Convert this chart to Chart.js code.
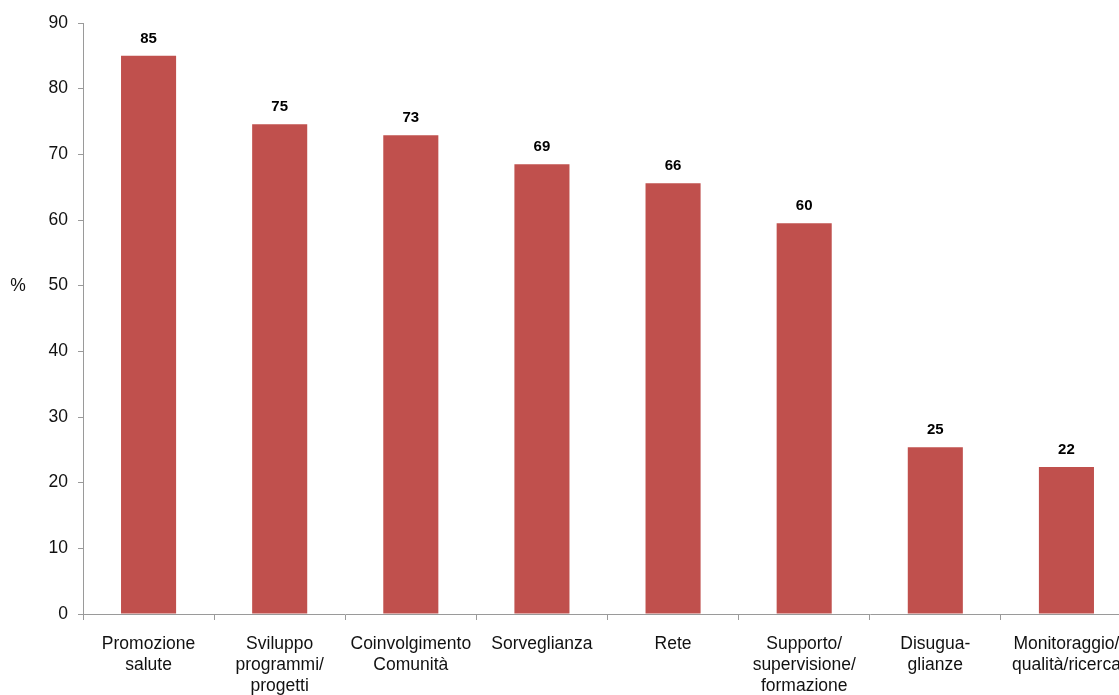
<!DOCTYPE html>
<html>
<head>
<meta charset="utf-8">
<script src="https://cdn.jsdelivr.net/npm/chart.js@4/dist/chart.umd.min.js"></script>
<style>
html,body{margin:0;padding:0;background:#fff;overflow:hidden;}
#wrap{width:1140px;height:695px;position:relative;}
</style>
</head>
<body>
<div id="wrap"><canvas id="c"></canvas></div>
<script>
const categories = [
  ["Promozione","salute"],
  ["Sviluppo","programmi/","progetti"],
  ["Coinvolgimento","Comunità"],
  ["Sorveglianza"],
  ["Rete"],
  ["Supporto/","supervisione/","formazione"],
  ["Disugua-","glianze"],
  ["Monitoraggio/","qualità/ricerca"]
];
const values = [85.0, 74.6, 72.9, 68.5, 65.6, 59.5, 25.4, 22.4];
const valueLabels = ["85","75","73","69","66","60","25","22"];
const yTicks = [0,10,20,30,40,50,60,70,80,90];

const FONT = "'Liberation Sans', Arial, sans-serif";
const AXIS = "#9a9a9a";

const labelPlugin = {
  id: 'labels',
  afterDatasetsDraw(chart) {
    const ctx = chart.ctx;
    const meta = chart.getDatasetMeta(0);
    ctx.save();
    ctx.font = "bold 15px " + FONT;
    ctx.fillStyle = "#000";
    ctx.textAlign = "center";
    ctx.textBaseline = "middle";
    meta.data.forEach((bar, i) => {
      ctx.fillText(valueLabels[i], bar.x, bar.y - 17);
    });
    ctx.font = "17.5px " + FONT;
    ctx.fillStyle = "#111";
    ctx.fillText("%", 18, 286);
    ctx.restore();
  }
};

new Chart(document.getElementById('c'), {
  type: 'bar',
  data: {
    labels: categories,
    datasets: [{
      data: values,
      backgroundColor: '#C0504D',
      borderWidth: 0,
      categoryPercentage: 1,
      barPercentage: 0.42
    }]
  },
  options: {
    responsive: true,
    maintainAspectRatio: false,
    animation: false,
    layout: { padding: { top: 23, right: 8, left: 0, bottom: 0 } },
    plugins: { legend: { display: false }, tooltip: { enabled: false } },
    scales: {
      x: {
        offset: true,
        grid: { offset: true, drawOnChartArea: false, drawTicks: true, tickLength: 6, color: AXIS },
        border: { display: true, color: AXIS, width: 1 },
        ticks: {
          autoSkip: false, maxRotation: 0, minRotation: 0, padding: 14,
          color: '#111', font: { family: FONT, size: 17.5, lineHeight: 1.2 }
        },
        afterFit(s) { s.height = 81; }
      },
      y: {
        min: 0, max: 90,
        afterBuildTicks(s) { s.ticks = yTicks.map(v => ({ value: v })); },
        grid: { drawOnChartArea: false, drawTicks: true, tickLength: 5, color: AXIS },
        border: { display: true, color: AXIS, width: 1 },
        ticks: { padding: 10, color: '#111', font: { family: FONT, size: 17.5 } },
        afterFit(s) { s.width = 83; }
      }
    }
  },
  plugins: [labelPlugin]
});
</script>
</body>
</html>
